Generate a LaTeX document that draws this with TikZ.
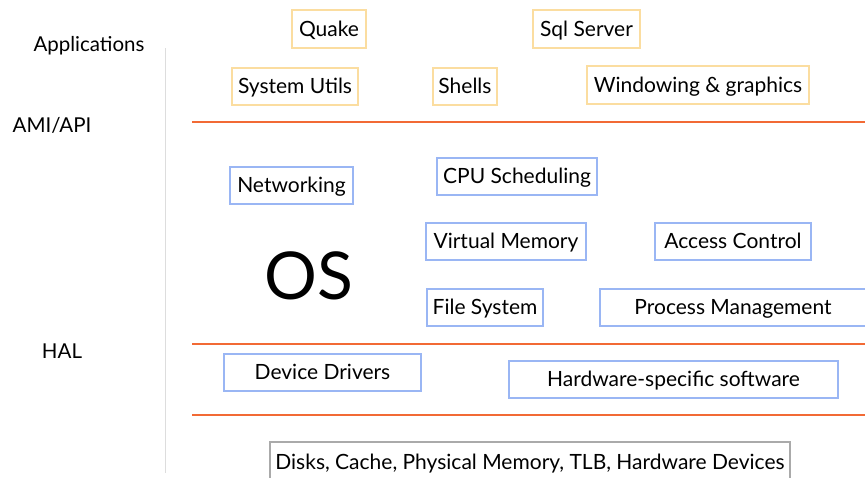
\documentclass[tikz,border=0pt]{standalone}
\usepackage{fontspec}
\setmainfont{Lato}
\definecolor{appc}{HTML}{FBDDA0}
\definecolor{osc}{HTML}{9AB6F4}
\definecolor{hwc}{HTML}{AAAAAA}
\definecolor{layc}{HTML}{F26A35}
\definecolor{vlc}{HTML}{DDDDDD}
\tikzset{
  bx/.style={draw, line width=2pt, inner sep=0pt, font=\fontsize{21}{24}\selectfont, text=black, text height=15pt, text depth=0pt},
  appbox/.style={bx, draw=appc},
  osbox/.style={bx, draw=osc},
  hwbox/.style={bx, draw=hwc, line width=1.5pt},
  lbl/.style={font=\fontsize{20.5}{24}\selectfont, inner sep=0pt, text height=15pt, text depth=0pt},
  layer/.style={draw=layc, line width=2pt},
}
\begin{document}
\begin{tikzpicture}[x=1pt,y=-1pt]
\useasboundingbox (0,0) rectangle (865,477);
% labels
\node[lbl] (lapp) at (89,44) {Applications};
\node[lbl] (lami) at (52,125) {AMI/API};
\node[lbl] (lhal) at (62,351) {HAL};
\node[font=\fontsize{66}{72}\selectfont, inner sep=0pt, text height=47pt, text depth=0pt] (os) at (309,276) {OS};
% vertical separator
\coordinate (vt) at (165,48);
\coordinate (vb) at (165,473);
\draw[vlc, line width=1pt] (vt) -- (vb);
% layer lines
\coordinate (l1a) at (192,122); \coordinate (l1b) at (865,122);
\coordinate (l2a) at (192,344); \coordinate (l2b) at (865,344);
\coordinate (l3a) at (192,415); \coordinate (l3b) at (865,415);
\draw[layer] (l1a) -- (l1b);
\draw[layer] (l2a) -- (l2b);
\draw[layer] (l3a) -- (l3b);
% application boxes
\node[appbox, minimum width=74pt, minimum height=38pt] (quake) at (329,28.5) {Quake};
\node[appbox, minimum width=107pt, minimum height=38pt] (sql) at (586.5,28.5) {Sql Server};
\node[appbox, minimum width=126pt, minimum height=37pt] (sysu) at (295,86) {System Utils};
\node[appbox, minimum width=64pt, minimum height=37pt] (shells) at (465,86) {Shells};
\node[appbox, minimum width=222pt, minimum height=38pt] (win) at (698,84.5) {Windowing \& graphics};
% OS boxes
\node[osbox, minimum width=123pt, minimum height=37pt] (net) at (291.5,185) {Networking};
\node[osbox, minimum width=160pt, minimum height=37pt] (cpu) at (517,176) {CPU Scheduling};
\node[osbox, minimum width=160pt, minimum height=37pt] (vm) at (506,241) {Virtual Memory};
\node[osbox, minimum width=156pt, minimum height=37pt] (acc) at (733,241) {Access Control};
\node[osbox, minimum width=116pt, minimum height=37pt] (fs) at (485,307) {File System};
\node[osbox, minimum width=266pt, minimum height=37pt] (pm) at (733,307) {Process Management};
% HAL boxes
\node[osbox, minimum width=197pt, minimum height=37pt] (dd) at (322.5,372) {Device Drivers};
\node[osbox, minimum width=329pt, minimum height=37pt] (hws) at (673.5,379) {Hardware-specific software};
% hardware
\node[hwbox, minimum width=520pt, minimum height=40pt] (hw) at (530,462) {Disks, Cache, Physical Memory, TLB, Hardware Devices};
\end{tikzpicture}
\end{document}
